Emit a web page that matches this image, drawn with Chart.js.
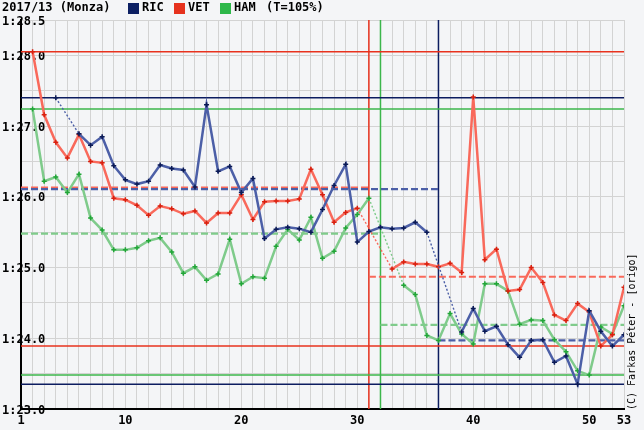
<!DOCTYPE html>
<html>
<head>
<meta charset="utf-8">
<script src="https://cdn.jsdelivr.net/npm/chart.js@4"></script>
<style>
  html, body { margin: 0; padding: 0; background: #f4f5f7; }
</style>
</head>
<body>
<canvas id="chart" width="644" height="430"></canvas>
<script>
// lap numbers and tick labels
const laps = [1, 2, 3, 4, 5, 6, 7, 8, 9, 10, 11, 12, 13, 14, 15, 16, 17, 18, 19, 20,
  21, 22, 23, 24, 25, 26, 27, 28, 29, 30, 31, 32, 33, 34, 35, 36, 37, 38, 39, 40,
  41, 42, 43, 44, 45, 46, 47, 48, 49, 50, 51, 52, 53];
const xTickLabels = [1, 10, 20, 30, 40, 50, 53];
const yTickLabels = [83, 84, 85, 86, 87, 88, 88.5];
const yRange = [83, 88.5];

// lap times in seconds (null = in/out lap, not shown)
const ric = [null, null, null, 87.40, null, 86.89, 86.73, 86.85, 86.44, 86.24,
  86.18, 86.22, 86.45, 86.40, 86.38, 86.14, 87.30, 86.36, 86.43, 86.06,
  86.26, 85.41, 85.54, 85.57, 85.55, 85.50, 85.82, 86.16, 86.46, 85.36,
  85.51, 85.57, 85.55, 85.56, 85.64, 85.50, null, null, 84.09, 84.42,
  84.10, 84.17, 83.91, 83.73, 83.97, 83.98, 83.66, 83.75, 83.35, 84.39,
  84.10, 83.89, 84.05];
const vet = [null, 88.05, 87.16, 86.77, 86.55, 86.88, 86.50, 86.48, 85.98, 85.96,
  85.88, 85.74, 85.87, 85.83, 85.76, 85.80, 85.63, 85.77, 85.77, 86.03,
  85.68, 85.93, 85.94, 85.94, 85.97, 86.39, 86.03, 85.64, 85.78, 85.84,
  null, null, 84.98, 85.08, 85.05, 85.05, 85.01, 85.06, 84.93, 87.41,
  85.11, 85.26, 84.67, 84.69, 85.00, 84.79, 84.33, 84.25, 84.49, 84.37,
  83.89, 84.05, 84.72];
const ham = [null, 87.24, 86.22, 86.28, 86.06, 86.32, 85.70, 85.53, 85.25, 85.25,
  85.28, 85.38, 85.42, 85.22, 84.92, 85.01, 84.82, 84.91, 85.40, 84.77,
  84.87, 84.85, 85.30, 85.54, 85.39, 85.71, 85.13, 85.23, 85.56, 85.75,
  85.98, null, null, 84.75, 84.62, 84.04, 83.97, 84.35, 84.06, 83.92,
  84.77, 84.77, 84.67, 84.20, 84.26, 84.25, 83.98, 83.81, 83.54, 83.48,
  84.16, 84.06, 84.46];

// pit laps, stint averages [from, to, time], slowest / fastest shown lap
const ricPit = 37, vetPit = 31, hamPit = 32;
const ricAvg = [[1, 37, 86.11], [37, 53, 83.97]];
const vetAvg = [[1, 31, 86.13], [31, 53, 84.87]];
const hamAvg = [[1, 32, 85.48], [32, 53, 84.19]];
const ricMaxMin = [87.40, 83.35];
const vetMaxMin = [88.05, 83.89];
const hamMaxMin = [87.24, 83.48];

const C = {
  ric: { line: '#4c5fa7', dot: '#0b1a55', solid: '#0c1c60', key: '#0c1f63' },
  vet: { line: '#f9695b', dot: '#d8200f', solid: '#e8321e', key: '#e6321e' },
  ham: { line: '#7fcb8b', dot: '#22a638', solid: '#3cb64b', key: '#2eb84a' }
};

const fmt = v => {
  const m = Math.floor(v / 60);
  const s = v - m * 60;
  return m + ':' + (s < 10 ? '0' : '') + s.toFixed(1);
};

const gap = (ctx, val) => (ctx.p0.skip || ctx.p1.skip) ? val : undefined;

const lapSeries = (label, arr, c) => ({
  label,
  data: laps.map((l, i) => ({ x: l, y: arr[i] })),
  borderColor: c.line,
  borderWidth: 2.5,
  pointStyle: 'cross',
  pointRadius: 2.5,
  pointBorderColor: c.dot,
  pointBorderWidth: 1.5,
  spanGaps: true,
  segment: {
    borderDash: ctx => gap(ctx, [2, 2]),
    borderWidth: ctx => gap(ctx, 1.4)
  }
});

const refLine = (data, color, width, dash) => ({
  data,
  borderColor: color,
  borderWidth: width,
  borderDash: dash || [],
  pointRadius: 0,
  fill: false
});

const hline = (y, x0, x1) => [{ x: x0, y }, { x: x1, y }];
const vline = x => [{ x, y: yRange[0] }, { x, y: yRange[1] }];
const first = laps[0], last = laps[laps.length - 1];

const datasets = [
  lapSeries('RIC', ric, C.ric),
  lapSeries('VET', vet, C.vet),
  lapSeries('HAM', ham, C.ham)
];
[[ricAvg, C.ric.line], [vetAvg, C.vet.line], [hamAvg, C.ham.line]].forEach(([avg, col]) => {
  avg.forEach(a => datasets.push(refLine(hline(a[2], a[0], a[1]), col, 2.2, [7, 3])));
});
[[ricMaxMin, C.ric.solid], [vetMaxMin, C.vet.solid], [hamMaxMin, C.ham.solid]].forEach(([mm, col]) => {
  mm.forEach(v => datasets.push(refLine(hline(v, first, last), col, 1.5)));
});
[[ricPit, C.ric.solid], [vetPit, C.vet.solid], [hamPit, C.ham.solid]].forEach(([p, col]) => {
  datasets.push(refLine(vline(p), col, 1.5));
});

const monoBold = { family: 'DejaVu Sans Mono', weight: 'bold', size: 12 };

const decor = {
  id: 'decor',
  afterDraw(chart) {
    const ctx = chart.ctx;
    ctx.save();
    ctx.fillStyle = '#000';
    ctx.font = 'bold 12px "DejaVu Sans Mono"';
    ctx.textBaseline = 'middle';
    ctx.textAlign = 'left';
    ctx.fillText('2017/13 (Monza)', 2, 8);
    const keys = [['RIC', C.ric.key, 128], ['VET', C.vet.key, 174], ['HAM', C.ham.key, 220]];
    keys.forEach(([t, col, x]) => {
      ctx.fillStyle = col;
      ctx.fillRect(x, 3, 11, 11);
      ctx.fillStyle = '#000';
      ctx.fillText(t, x + 14, 8);
    });
    ctx.fillText('(T=105%)', 266, 8);
    ctx.translate(632, 410);
    ctx.rotate(-Math.PI / 2);
    ctx.font = '10px "DejaVu Sans Mono"';
    ctx.fillText('(C) Farkas Péter - [origo]', 0, 0);
    ctx.restore();
  }
};

new Chart(document.getElementById('chart'), {
  type: 'line',
  data: { datasets },
  options: {
    responsive: false,
    animation: false,
    devicePixelRatio: 1,
    layout: { padding: { left: 2, top: 20, right: 20, bottom: 0 } },
    plugins: { legend: { display: false }, tooltip: { enabled: false } },
    scales: {
      x: {
        type: 'linear',
        min: first,
        max: last,
        afterFit: s => { s.height = 21; },
        ticks: {
          stepSize: 1,
          autoSkip: false,
          maxRotation: 0,
          padding: 5,
          color: '#000',
          font: monoBold,
          callback: v => xTickLabels.includes(v) ? String(v) : ''
        },
        grid: { color: '#d3d3d3', lineWidth: 1, drawTicks: false },
        border: { color: '#000', width: 2 }
      },
      y: {
        min: yRange[0],
        max: yRange[1],
        afterFit: s => { s.width = 19; },
        ticks: {
          stepSize: 0.5,
          mirror: true,
          crossAlign: 'near',
          padding: -19,
          labelOffset: 1.5,
          color: '#000',
          font: monoBold,
          callback: v => yTickLabels.includes(v) ? fmt(v) : ''
        },
        grid: { color: '#d3d3d3', lineWidth: 1, drawTicks: false },
        border: { color: '#000', width: 2 }
      }
    }
  },
  plugins: [decor]
});
</script>
</body>
</html>
